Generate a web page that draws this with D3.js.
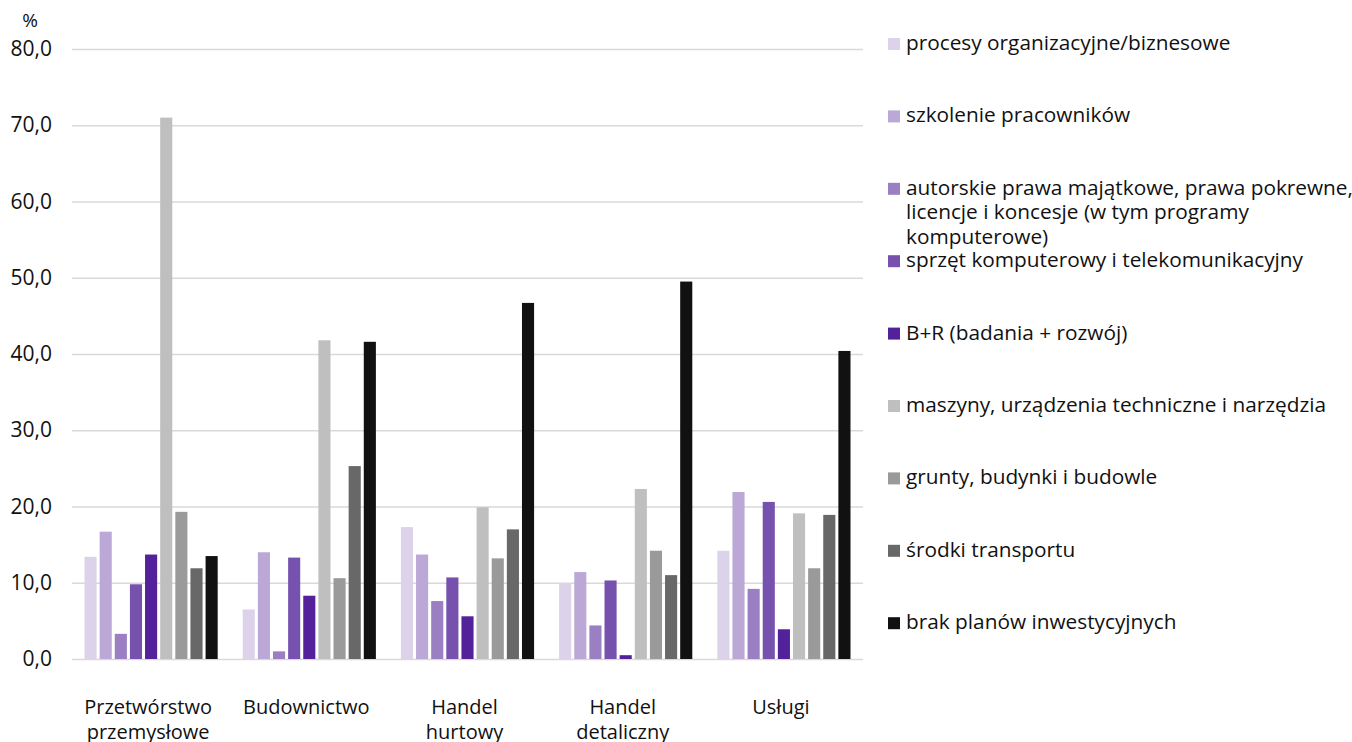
<!DOCTYPE html>
<html><head><meta charset="utf-8">
<script src="https://cdn.jsdelivr.net/npm/d3@7"></script>
<style>
html,body{margin:0;padding:0;background:#fff;}
svg{display:block;font-family:"Open Sans","Noto Sans",sans-serif;}
</style></head>
<body>
<svg id="chart" width="1352" height="742"></svg>
<script>
const categories = [["Przetwórstwo","przemysłowe"],["Budownictwo"],["Handel","hurtowy"],["Handel","detaliczny"],["Usługi"]];
const seriesNames = [
  ["procesy organizacyjne/biznesowe"],
  ["szkolenie pracowników"],
  ["autorskie prawa majątkowe, prawa pokrewne,","licencje i koncesje (w tym programy","komputerowe)"],
  ["sprzęt komputerowy i telekomunikacyjny"],
  ["B+R (badania + rozwój)"],
  ["maszyny, urządzenia techniczne i narzędzia"],
  ["grunty, budynki i budowle"],
  ["środki transportu"],
  ["brak planów inwestycyjnych"]
];
const seriesColors = ["#dcd3ea","#bba8d6","#9a80c2","#7652ae","#53229a","#bfbfbf","#9a9a9a","#686868","#111111"];
const procesy      = [13.4, 6.5, 17.3,  9.9, 14.2];
const szkolenie    = [16.7, 14.0, 13.7, 11.4, 21.9];
const autorskie    = [3.3,  1.0,  7.6,  4.4,  9.2];
const sprzet       = [9.8,  13.3, 10.7, 10.3, 20.6];
const bR           = [13.7, 8.3,  5.6,  0.5,  3.9];
const maszyny      = [71.0, 41.8, 19.9, 22.3, 19.1];
const grunty       = [19.3, 10.6, 13.2, 14.2, 11.9];
const transport    = [11.9, 25.3, 17.0, 11.0, 18.9];
const brakPlanow   = [13.5, 41.6, 46.7, 49.5, 40.4];
const seriesValues = [procesy, szkolenie, autorskie, sprzet, bR, maszyny, grunty, transport, brakPlanow];
const yTicks = [0,10,20,30,40,50,60,70,80];

const svg = d3.select("#chart");
const plotL = 72, plotR = 863, plotT = 49, plotB = 659;

const x0 = d3.scaleBand().domain(d3.range(categories.length)).range([plotL, plotR]).padding(0);
const x1 = d3.scaleBand().domain(d3.range(seriesValues.length))
  .range([11, x0.bandwidth() - 11]).paddingInner(0.2).paddingOuter(0.1);
const y = d3.scaleLinear().domain([0, 80]).range([plotB, plotT]);

// gridlines
const yAxis = d3.axisLeft(y).tickValues(yTicks).tickSize(-(plotR - plotL)).tickPadding(10)
  .tickFormat(d => d3.format(".1f")(d).replace(".", ","));
const gy = svg.append("g").attr("transform", `translate(${plotL},0)`).call(yAxis);
gy.select(".domain").remove();
gy.selectAll(".tick line").attr("stroke", "#d9d9d9").attr("stroke-width", 1.3);
gy.selectAll(".tick text").attr("x", -20).attr("font-size", 21).attr("fill", "#111")
  .style("font-family", '"Open Sans",sans-serif');

svg.append("text").attr("x", 30).attr("y", 27).attr("text-anchor", "middle")
  .attr("font-size", 19).attr("fill", "#111").text("%");

// bars
const groups = svg.append("g").selectAll("g").data(categories).join("g")
  .attr("transform", (d, i) => `translate(${x0(i)},0)`);
groups.selectAll("rect").data((d, i) => seriesValues.map((s, j) => ({j, v: s[i]})))
  .join("rect")
  .attr("x", d => x1(d.j))
  .attr("width", x1.bandwidth())
  .attr("y", d => y(d.v))
  .attr("height", d => y(0) - y(d.v))
  .attr("fill", d => seriesColors[d.j]);

// category labels
const xl = svg.append("g");
categories.forEach((lines, i) => {
  const cx = x0(i) + x0.bandwidth() / 2 - 3;
  const t = xl.append("text").attr("text-anchor", "middle")
    .attr("x", cx).attr("y", 714)
    .attr("font-size", 20).attr("fill", "#111");
  lines.forEach((ln, k) => t.append("tspan").attr("x", cx)
    .attr("dy", k === 0 ? 0 : 25).text(ln));
});

// legend
const leg = svg.append("g");
seriesNames.forEach((lines, i) => {
  const yy = 50 + i * 72.4;
  leg.append("rect").attr("x", 888).attr("y", yy - 12).attr("width", 12).attr("height", 12)
    .attr("fill", seriesColors[i]);
  const t = leg.append("text").attr("x", 906).attr("y", yy).attr("font-size", 20.8).attr("fill", "#111");
  lines.forEach((ln, k) => t.append("tspan").attr("x", 906).attr("dy", k === 0 ? 0 : 24.5).text(ln));
});
</script>
</body></html>
